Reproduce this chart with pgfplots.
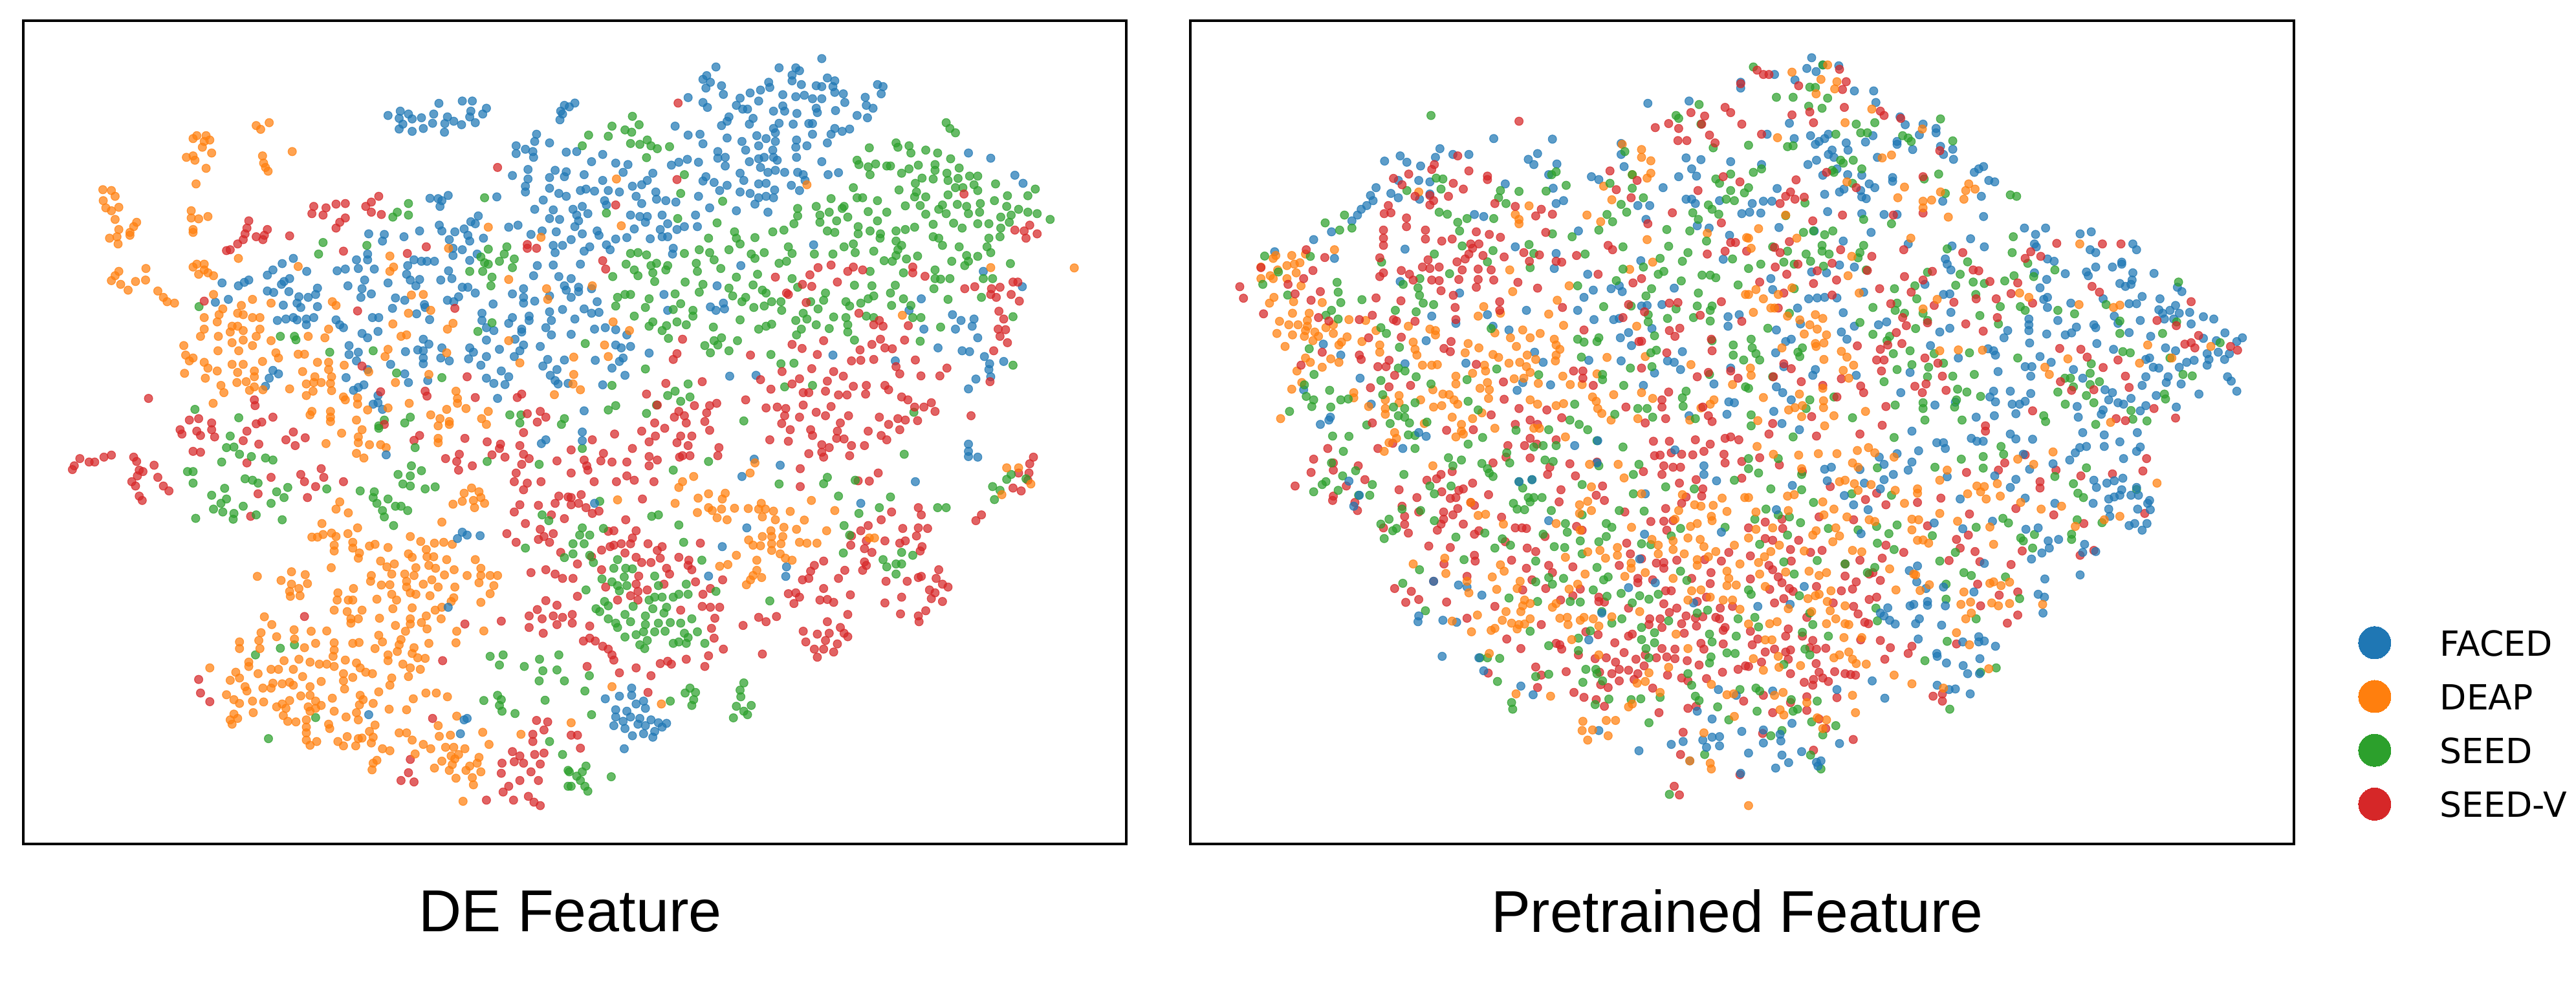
\documentclass[border=0pt]{standalone}
\usepackage{fontspec}
\setmainfont{Liberation Sans}
\newfontfamily\dejavu{DejaVu Sans}
\usepackage{pgfplots}
\pgfplotsset{compat=1.18}
\definecolor{fa}{HTML}{1F77B4}
\definecolor{de}{HTML}{FF7F0E}
\definecolor{se}{HTML}{2CA02C}
\definecolor{sv}{HTML}{D62728}
% Points are read from crops of the picture: #2,#3 crop origin; #4,#5 end of the crop's own part
\newcommand{\pts}[6]{\addplot[forget plot,only marks,mark=*,mark size=1.6pt,color=#1,
  mark options={opacity=0.72,line width=0.3pt},
  x filter/.expression={x>#4 ? nan : x*0.57398+#2},
  y filter/.expression={y>#5 ? nan : 1520-(y*0.44643+#3)}] coordinates {#6};}
\pgfplotsset{panel/.style={x=0.25pt,y=0.25pt,ymin=215,ymax=1488,ticks=none,
  axis line style={line width=1pt,black},anchor=south west}}
\begin{document}
\begin{tikzpicture}[x=1pt,y=1pt]
\path[use as bounding box] (0,0) rectangle (995.5,380);
\begin{axis}[panel,xmin=36,xmax=1741,at={(9pt,53.75pt)}]
\pts{fa}{0}{0}{1533}{1478}{(1045,400)(1078,385)(1075,410)(1100,395)(1110,412)(1085,430)(1075,447)(1110,455)(1140,445)(1135,408)(1168,395)(1165,427)(1182,358)(1197,458)(1198,428)(1205,405)(1222,420)(1245,350)(1272,350)(1268,385)(1265,405)(1243,432)(1280,425)(1300,395)(1310,375)
(1510,385)(1520,365)(1550,355)(1508,415)(1515,395)(1445,465)(1440,490)(1480,495)(1390,505)(1390,532)(1415,517)(1435,525)(1437,545)(1525,527)(1553,523)(1422,587)(1380,608)(1422,620)(1415,645)(1415,665)(1480,615)(1495,590)(1525,595)(1520,612)(1560,608)(1480,652)(1505,670)(1525,680)(1560,655)(1463,693)(1440,725)(1490,727)(1550,730)(1480,757)(1507,760)(1555,750)(1550,780)(1555,800)
(1158,687)(1180,688)(1207,677)(1190,695)(1185,715)(1338,682)
(993,810)(1035,812)(1030,835)(1088,820)(1130,800)(1183,780)(1190,800)(1225,803)(1250,793)(1268,768)(1288,748)(1280,775)(1370,787)(1395,780)(1430,812)(1460,800)(1498,803)(1535,830)(1490,850)(1495,875)(1515,850)
(1210,830)(1220,860)(1245,865)(1260,815)(1265,835)(1302,825)(1220,885)(1285,880)(1265,902)
(960,900)(990,880)(990,900)(965,930)(1008,932)(1115,900)(1135,905)(1150,905)(1170,905)(1098,920)(1095,950)(1105,970)(1130,968)(1120,990)(1208,938)(1187,970)(1217,965)(1045,980)(982,970)
(790,895)(760,913)(735,935)(720,953)(826,940)(908,938)(930,932)(780,965)(765,975)(758,985)(670,970)(658,978)(642,990)(598,980)
(615,1037)(580,1047)(720,1008)(737,1013)(778,1010)(855,998)(850,1020)(830,1030)(805,1028)(800,1050)(810,1065)(855,1062)(763,1057)
(937,990)(975,1000)(972,1030)(1000,1018)(1065,1032)(1090,1040)(1143,1055)(1145,1065)(1057,1068)(1122,1087)(1157,1107)(1205,1040)(1235,1028)(1245,995)(1260,995)(1280,1015)(1222,1045)(1328,1053)(1380,1018)(1410,1000)(1410,1030)(1410,1050)(1440,1043)(1437,955)(1447,920)(1490,918)(1505,958)(1520,990)(1525,1005)(1555,1000)(1565,915)(1535,960)(1480,1025)(1535,1035)(1560,1020)(1515,1072)(1480,1080)(1552,1105)
(747,1110)(770,1105)(790,1100)(800,1108)(825,1105)(845,1100)(825,1125)(905,1108)(915,1125)(925,1135)(975,1155)(990,1170)(1018,1148)(1003,1100)(1020,1100)
(1298,1085)(1298,1110)(1310,1135)(1330,1145)(1370,1120)(1380,1100)(1425,1095)(1425,1110)(1405,1140)(1405,1150)(1485,1110)(1470,1135)(1485,1160)(1537,1155)(1310,1178)(1387,1175)(1410,1195)(1400,1215)(1455,1200)(1385,1235)
(1140,1175)(1155,1192)(1140,1215)(1125,1212)(1092,1218)(1140,1240)(1140,1260)(1190,1205)(1187,1240)(1210,1250)(1265,1205)(1275,1220)(1262,1243)(1345,1210)(1310,1235)(1295,1265)(1350,1285)(1370,1305)
(940,1197)(965,1220)(940,1228)(960,1250)(1052,1262)(990,1280)(1090,1295)(1100,1325)(1152,1318)(1310,1310)(1330,1328)(1360,1332)(1520,1247)(1475,1245)(1462,1268)(1500,1280)(1482,1300)(1495,1318)(1503,1330)(1530,1328)
(932,1308)(980,1333)(965,1342)(952,1352)(735,1283)(750,1295)(725,1310)(715,1338)
(1340,1380)(1018,1370)(1018,1395)(1005,1400)(1030,1418)(1460,1530)(1470,1520)}
\pts{de}{0}{0}{1533}{1478}{(725,425)(690,435)(702,448)(555,470)(530,470)(520,480)(550,490)(565,485)(545,510)(570,530)(520,540)(502,545)(525,555)(555,583)(787,525)(707,540)(710,565)(715,580)(722,593)(528,637)
(277,657)(300,660)(310,680)(278,695)(285,720)(320,718)(300,730)(310,760)(368,770)(360,785)(320,795)(350,805)(295,825)(315,820)(318,845)(350,815)
(515,730)(515,755)(535,758)(560,750)(520,795)(520,805)(1315,787)(1457,822)(1208,860)
(642,895)(803,923)(1050,887)(1060,925)(1050,940)(1370,968)(1472,1000)(1475,1037)
(320,940)(310,955)(393,930)(300,972)(365,975)(392,970)(325,985)(345,1005)(425,1008)(440,1030)(450,1045)(470,1050)(530,915)(550,915)(520,925)(550,935)(560,945)(535,950)(575,955)
(575,1020)(680,1037)(730,1050)(895,1045)(905,1058)(650,1058)(600,1070)(590,1090)(640,1085)(655,1090)(550,1100)(585,1115)(680,1100)(700,1100)
(1108,1022)(1140,1020)(1160,1075)(1100,1085)(1058,1122)(1220,1120)(1205,1140)(1080,1165)(1095,1160)
(625,1130)(640,1130)(620,1150)(655,1145)(700,1140)(690,1165)(550,1140)(540,1165)(588,1165)(655,1178)(625,1187)(730,1180)(830,1165)(885,1140)(875,1170)(495,1197)(587,1215)(643,1215)(680,1197)
(743,1222)(750,1240)(803,1227)(820,1227)(500,1230)(520,1240)(510,1250)(550,1255)(560,1275)(625,1262)(655,1262)(640,1290)(707,1252)(855,1255)(885,1255)(885,1280)(927,1265)(1045,1210)(1037,1235)(1203,1222)(1370,1180)(1400,1257)
(497,1293)(553,1310)(585,1285)(638,1325)(685,1285)(685,1305)(663,1322)(815,1287)(848,1305)(845,1325)(825,1330)(865,1325)(893,1305)(890,1328)(993,1288)(1065,1325)(1155,1297)(1493,1367)(1540,1330)(1565,1348)
(595,1335)(603,1360)(685,1340)(672,1352)(708,1350)(780,1347)(843,1355)(825,1370)(893,1353)(925,1375)(930,1385)(963,1378)(963,1400)(1228,1355)(1232,1380)(1232,1397)
(574,1397)(840,1425)(835,1437)(890,1425)(890,1445)(890,1460)(960,1455)(990,1420)(1045,1413)(1102,1397)(1255,1415)(1315,1425)(1297,1450)(1310,1470)(1322,1485)
(1160,1437)(1203,1418)(1185,1450)(1210,1460)(1180,1475)(1210,1470)}
\pts{se}{0}{0}{1533}{1478}{(1568,505)(1305,685)(1100,705)(1070,735)(1058,752)(1100,745)(870,840)(858,880)(988,850)(536,1062)
(1315,863)(1365,855)(1358,880)(1295,890)(1305,910)(1345,905)(1385,897)(1380,927)(1315,915)(1300,940)(1265,940)(1325,960)(1322,990)
(755,1165)(793,1165)(797,1177)(888,1220)(1005,1215)(1068,1292)(1190,1308)(1325,1118)(1287,1148)
(525,1418)(643,1447)(1035,1455)(1020,1475)(1090,1465)(1105,1445)(1373,1437)(1403,1437)(1400,1465)(1520,1450)(1512,1470)}
\pts{sv}{0}{0}{1533}{1478}{(1340,580)(1020,680)(905,707)(930,705)(845,715)(878,720)(840,740)(870,745)(985,715)(1000,700)(1000,735)(1027,743)(930,755)(915,770)(905,790)
(670,765)(665,790)(660,810)(655,830)(640,845)(620,865)(610,868)(720,795)(712,815)(690,820)(708,830)(780,817)
(1148,855)(1097,878)(925,870)(1420,847)(1445,860)(1420,860)
(550,1043)(963,1077)(1225,1068)(975,1268)(1258,1305)(1025,1357)(1145,1355)(1150,1372)(1280,1377)(1393,1377)(1405,1365)(400,1380)(685,1385)(687,1405)
(735,1445)(690,1468)(705,1462)(1420,1433)(1455,1425)(1470,1445)(1447,1462)(1035,1470)(510,1455)(535,1450)(570,1465)}
\pts{fa}{880}{0}{9999}{1478}{(680,203)(395,232)(565,235)(610,235)(620,245)(600,260)(600,280)(625,293)(370,262)(360,275)(380,285)(368,305)(410,297)(415,327)(320,338)(360,355)(372,372)(15,357)(0,370)
(460,340)(487,322)(515,312)(537,285)(540,303)(510,350)(450,365)(480,378)(467,378)(575,328)(610,335)(633,330)(655,342)(680,342)(665,297)(695,270)(715,280)(710,300)(680,300)(715,320)(738,325)(742,355)(797,337)(800,365)(818,375)(830,293)(845,300)(840,325)(775,400)(803,408)
(575,367)(550,385)(580,385)(613,393)(665,375)(668,390)(717,383)(430,405)(425,420)(410,435)(495,410)(485,430)(565,427)(550,445)(603,430)(645,428)(655,428)(655,465)(715,445)(735,455)(755,447)(705,465)(695,495)
(285,437)(320,468)(352,465)(360,498)(425,478)(465,490)(475,520)(505,470)(530,480)(510,505)(555,460)(555,490)(612,485)(610,510)(640,505)(548,520)(550,545)(612,545)
(400,525)(400,548)(420,545)(420,575)(485,560)(510,550)(525,545)(515,580)(535,597)(555,590)(580,597)(560,555)(615,597)(630,605)(635,625)(680,560)(697,605)(725,598)
(275,572)(295,562)(318,552)(348,562)(90,535)(60,560)(125,565)(158,570)(145,597)(20,525)(40,605)
(225,600)(210,625)(195,640)(360,627)(368,612)(390,632)(425,642)(405,660)(460,600)(470,625)(510,637)(530,635)(553,658)(598,642)(620,660)
(90,625)(45,655)(30,660)(68,662)(105,660)(135,665)(170,645)(95,695)(100,710)(180,680)(195,705)(233,665)(235,690)(260,695)(287,700)(348,680)
(460,665)(487,670)(510,685)(530,680)(550,685)(500,707)(535,735)(450,730)(378,720)
(10,725)(35,715)(20,745)(50,740)(25,765)(15,785)(35,810)(75,800)(80,815)(5,830)(125,828)(155,823)(100,848)(110,865)(55,855)(40,870)
(165,745)(190,750)(210,750)(205,770)(250,745)(265,775)(175,793)(245,795)(218,827)(250,820)(265,820)(290,795)(310,785)(340,745)(345,785)(280,860)(278,880)
(30,915)(5,965)(25,995)(25,1010)(60,1000)(5,1030)(75,1045)(40,1070)(60,1085)(80,1082)(15,1105)(255,1020)(398,990)(462,920)(658,848)(1115,940)(1220,993)(948,1035)
(380,1063)(395,1075)(415,1050)(418,1070)(265,1075)(915,1075)(1032,1090)(1055,1110)(1090,1105)(1085,1130)(1040,1140)(1100,1170)(955,1140)
(68,1140)(97,1135)(125,1142)(155,1160)(5,1158)(125,1195)(140,1205)(165,1200)(215,1223)(70,1248)(145,1240)(135,1252)(115,1275)(150,1300)(90,1333)(432,1303)(503,1300)(710,1230)(878,1250)(993,1205)(1058,1215)(1078,1218)(1118,1235)(1132,1260)(1130,1280)(1170,1252)(1095,1313)(1135,1305)(1075,1347)(40,1423)
(1075,530)(1135,548)(1200,607)(1222,635)}
\pts{de}{880}{0}{9999}{1478}{(127,620)(640,640)(140,782)(1135,927)(1360,928)(62,990)(118,1115)(162,1145)(95,1195)(105,1235)(12,1237)(12,1297)(10,1330)(30,1350)(897,1092)}
\pts{se}{880}{0}{9999}{1478}{(170,403)(115,437)(150,450)(188,432)(168,458)(52,468)(105,472)(35,505)(165,497)(190,500)(210,485)(220,505)(237,515)(270,508)(208,546)(310,605)(300,670)(413,697)(100,738)(292,757)(398,772)
(1015,425)(1025,445)(1040,460)(808,512)(880,495)(885,510)(915,505)(920,530)(960,520)(992,530)(1027,550)(775,555)(780,570)(805,578)(825,568)(810,605)(855,575)(865,575)(895,600)(915,585)(940,572)(985,570)(985,590)(1050,582)(980,620)(1017,600)(1020,625)(1047,618)(1078,610)(1100,610)(950,617)(932,635)
(1090,640)(1100,660)(1148,637)(1040,650)(1060,650)(1255,655)(1235,678)(1180,678)(765,650)(775,685)(790,685)(705,688)(888,658)(935,665)(930,682)(960,682)(1020,675)(1005,710)(995,725)(1145,695)
(830,695)(855,735)(740,715)(735,722)(665,715)(615,722)(615,748)(605,775)(700,735)(675,745)(675,770)(720,765)(750,752)(805,733)(830,765)(905,713)(945,712)(960,742)(1015,740)(1045,708)(1070,715)(1075,740)(1107,705)(1105,735)(1178,715)(1162,752)(1210,725)(1235,735)(1260,740)(1295,760)(1190,745)(1185,770)
(980,777)(1035,773)(1058,790)(1100,775)(1130,775)(1162,790)(1160,820)(778,785)(778,810)(810,800)(695,800)(715,805)(838,810)(880,800)(905,795)(930,787)(980,820)(995,825)(1005,850)(548,803)(578,797)(445,803)(450,825)(460,845)(375,825)(500,823)(837,825)(880,835)
(1130,825)(1125,855)(1135,875)(1050,855)(1070,885)(1100,888)(1075,905)(1065,920)(1030,905)(1188,913)
(590,855)(600,878)(585,905)(565,912)(660,880)(710,880)(740,855)(765,845)(770,875)(820,870)(895,850)(885,865)(880,885)(848,903)(870,905)(908,897)(938,887)
(165,878)(185,875)(208,883)(350,865)(378,875)(390,900)(430,865)(490,880)(500,895)(525,875)(310,878)
(153,915)(175,935)(185,955)(220,920)(235,912)(265,920)(260,935)(225,945)(230,975)(342,912)(345,940)(408,930)(312,977)(117,958)
(450,960)(507,950)(600,965)(615,995)(495,987)(520,1005)(530,1015)(430,998)(440,1025)(360,985)(350,1012)(285,1018)
(900,945)(985,935)(985,965)(1000,967)(1025,965)(1115,965)(1140,965)(810,940)(768,988)(815,990)(878,988)(982,1000)(1020,1037)(1110,1030)(865,1015)(820,1025)(900,1035)(920,1058)(868,1058)
(130,1030)(150,1020)(165,1020)(125,1060)(215,1035)(205,1065)(300,1052)(280,1072)(333,1075)(333,1095)(175,1095)
(465,1045)(475,1030)(497,1065)(525,1060)(545,1045)(570,1045)(572,1075)(650,1045)(670,1070)(690,1015)(685,1040)(745,1045)(755,1060)(785,1050)(805,1035)
(630,1085)(610,1110)(640,1105)(665,1125)(625,1140)(612,1160)(700,1138)(712,1098)(745,1100)(750,1125)(750,1150)(800,1095)(820,1100)(925,1100)(947,1100)(1000,1133)(1195,1097)
(215,1130)(225,1115)(250,1145)(262,1128)(290,1115)(315,1125)(267,1172)(388,1133)(460,1108)(510,1140)(530,1130)(545,1123)(768,1178)(945,1182)
(365,1197)(390,1180)(400,1195)(410,1170)(430,1215)(380,1222)(453,1180)(543,1228)(43,1190)(205,1278)(570,1260)(605,1258)(1195,1265)
(115,1335)(580,1340)(655,1335)(320,1330)(285,1355)(265,1370)(325,1375)(300,1390)(105,1420)(125,1405)(208,1432)(235,1403)(437,1487)(470,1458)(928,1428)}
\pts{sv}{880}{0}{9999}{1478}{(293,357)(290,622)(1063,672)(125,710)(1200,797)(1240,780)(1260,810)(1225,800)(1230,825)(90,903)(98,932)
(705,918)(670,927)(648,952)(765,925)(750,940)(790,935)(925,925)(925,945)(958,957)(555,960)(628,985)(653,992)(722,977)(585,1015)(590,1020)(638,1048)(1065,1000)(1092,993)(1137,1000)(1160,995)(1195,977)(1208,977)(1150,1030)(1135,1020)(1190,1020)(1212,1043)(1157,1078)(1170,1105)(780,1085)(835,1110)(820,1125)(845,1130)
(913,1128)(1155,1140)(1175,1142)(1160,1165)(1180,1187)(1143,1215)(685,1180)(600,1193)(627,1207)(488,1230)(668,1228)(305,1175)(290,1225)(280,1245)(838,1175)(815,1193)(850,1205)(870,1208)(903,1178)(783,1212)
(760,1250)(785,1248)(820,1245)(932,1247)(880,1270)(890,1295)(1017,1275)(947,1302)(998,1302)(653,1277)(712,1287)(738,1303)(573,1287)(515,1315)(543,1348)(600,1330)(620,1312)(695,1320)(765,1338)(800,1335)(850,1335)(860,1350)(1133,1322)
(358,1322)(260,1328)(208,1365)(630,1360)(645,1360)(690,1355)(725,1368)(748,1368)(798,1365)(895,1375)(912,1385)(975,1395)(955,1410)(985,1425)(930,1410)
(475,1385)(397,1397)(378,1405)(337,1405)(295,1425)(310,1440)(283,1445)(237,1403)(530,1413)(560,1410)(583,1415)(630,1403)(705,1408)(665,1428)(690,1440)(620,1445)(580,1440)(752,1440)(835,1445)(860,1470)(885,1450)(905,1455)(938,1457)(1082,1440)
(230,1465)(258,1480)(370,1430)(365,1460)(315,1465)(572,1467)(730,1465)}
\pts{sv}{0}{660}{1533}{9999}{(300,98)(280,105)(215,110)(240,122)(255,122)(200,135)(195,148)(360,105)(368,120)(375,150)(385,155)(370,170)(355,190)(365,205)(415,133)(425,175)(440,205)(455,222)(375,240)(383,255)
(485,10)(530,15)(570,10)(490,25)(540,30)(578,35)(665,15)(655,48)(697,60)(790,18)(770,45)(795,65)(822,38)(520,85)(540,88)(665,125)(810,165)(865,145)(872,175)(820,190)(850,207)(925,190)(730,175)(695,232)(828,245)(675,310)
(1130,30)(1115,47)(1200,110)(1237,95)(1230,120)(1272,135)(1235,150)(1252,40)(1312,52)(1348,60)(1345,75)(1325,97)(1360,105)(1410,20)(1400,65)(1410,95)(1425,110)(1405,130)(1390,160)(1385,190)(1420,195)(1410,218)(1500,118)(1535,80)(1540,160)(1457,190)(1450,272)
(1505,240)(1530,243)(1560,235)(1495,265)(1400,270)(1385,295)(1485,305)(1520,318)(1415,335)(1455,355)(1365,370)(1465,380)(1450,390)(1490,370)(1390,400)(1480,400)(1510,435)(1430,505)(1470,495)(1495,510)(1515,525)(1555,590)
(1470,602)(1500,618)(1447,633)(1425,655)(1460,665)(1490,655)(1515,660)(1500,685)(1425,695)(1463,715)(1540,680)(1350,673)(1252,683)(820,657)(1192,810)(1570,745)(535,875)(540,922)(565,952)
(1165,1010)(1445,1017)(1475,1022)(1465,1050)(1545,1067)(1435,1065)(1435,1090)(1560,1110)(1380,1125)(1400,1140)(1440,1135)(1465,1130)(1385,1160)(1410,1165)(1352,1165)(1455,1168)(1430,1195)(1350,1200)(1105,1152)(1100,1198)(1080,1225)(1115,1230)
(1450,1225)(1400,1225)(1370,1245)(1355,1265)(1310,1293)(1383,1293)(1423,1280)(1438,1300)(1455,1312)}
\pts{se}{0}{660}{1533}{9999}{(620,32)(610,72)(630,70)(645,95)(677,103)(597,122)(715,108)(735,115)(1020,5)(1118,72)
(505,155)(520,155)(520,195)(660,180)(680,185)(695,195)(880,215)(775,210)(745,225)(765,245)(730,265)(605,213)(570,237)(610,250)(595,265)(575,285)(600,295)(655,275)(630,300)(628,320)(690,305)(527,317)(760,322)
(970,222)(1008,225)(1005,245)(1015,265)(1030,290)(1045,250)(1065,275)(1080,275)(1098,290)(1035,312)(1060,342)(1108,135)(1135,152)(1072,165)(1105,170)(1085,198)(1105,205)(1145,215)(1172,208)
(1312,120)(1452,130)(1460,305)(1478,325)(1415,420)(1540,405)(1520,453)(1545,440)(1565,370)(1570,350)
(755,767)(793,755)(688,790)(850,1007)(723,1080)
(1320,795)(1355,790)(1345,825)(1412,830)(1453,805)(1505,790)(1500,842)(1462,845)(1452,880)(1520,880)(1303,948)(1340,930)(1350,945)(1345,965)(1352,985)(1387,993)(1468,947)(1570,915)
(1480,1090)(1515,1135)(1530,1190)(1555,1195)(1555,1215)(1530,1245)}
\pts{de}{0}{660}{1533}{9999}{(920,22)(975,10)(878,58)(965,35)(965,55)(995,62)(1025,62)(1040,72)(960,92)(980,108)(1180,40)(1180,55)
(1270,212)(1290,225)(1250,230)(1245,258)(1275,255)(1295,245)(1278,280)(1220,268)(1305,265)(915,260)(905,285)(938,298)(1190,330)
(867,335)(963,350)(840,382)(855,382)(870,373)(893,368)(905,380)(937,370)(950,400)(900,410)(900,430)(1105,380)(1133,397)(1170,403)(1195,400)(1218,407)(995,413)(1010,407)(1045,418)(968,437)(965,455)(950,420)
(1100,440)(1110,452)(1148,425)(1150,450)(1168,450)(1203,460)(1280,460)(1025,465)(1042,485)(1062,475)(892,488)(1055,510)(1120,488)(1115,515)(1090,510)(1155,480)(1173,490)(1197,513)(1223,495)
(785,502)(822,512)(757,532)(828,543)(785,545)(780,570)(805,560)(782,587)(808,585)(693,518)(1000,515)(998,535)(1027,548)(1050,547)(952,560)(910,575)(908,600)(938,600)(950,600)(1095,535)(1095,555)(1105,575)(1120,580)(1140,545)(1163,530)(1180,555)(1225,555)(1158,585)
(1258,515)(1295,490)(1295,515)(1320,515)(1340,515)(1290,540)(1330,550)(1320,578)(1295,608)(1015,597)(1055,580)(1068,600)(1222,592)(1215,605)
(900,635)(935,640)(975,635)(945,665)(965,665)(1022,663)(945,680)(1058,630)(1110,627)(1148,655)(1105,665)(1105,683)(1065,688)(1135,678)(1172,635)(1188,665)(1150,700)(1190,625)
(712,658)(732,685)(792,703)(838,708)(880,707)(703,713)(745,727)(793,735)(697,740)(645,745)(645,768)(700,768)(820,765)(850,750)(900,748)(900,773)(897,795)(950,750)(967,747)(1020,722)(1030,745)(1010,768)(1080,737)(1075,755)(1070,778)(1092,708)(1155,750)(1230,708)(1228,748)(1303,707)
(765,810)(805,805)(835,815)(860,822)(880,822)(900,830)(930,808)(960,818)(970,835)(985,850)(1003,855)(1045,790)(1045,810)(1115,765)(1110,785)(1125,800)(1145,802)(1085,822)(1105,835)(1132,840)(1100,865)
(565,835)(670,815)(670,830)(695,855)(730,840)(750,840)(790,840)(635,850)(620,878)(645,870)(815,865)(865,882)(925,855)(925,880)(950,868)(1055,870)(1050,895)
(660,900)(665,915)(610,928)(630,945)(645,958)(680,950)(708,905)(730,905)(735,888)(760,890)(780,885)(790,895)(835,900)(710,953)(810,932)(835,930)(850,950)(895,940)(928,908)(970,930)(978,945)(1020,918)(1005,958)(968,963)(1147,922)(1175,922)(1205,935)(1113,942)
(780,948)(760,960)(745,970)(770,975)(830,970)(835,985)(865,965)(850,975)(900,985)(682,990)(630,995)(640,1010)(620,1015)(625,1030)(763,1000)(775,1020)(797,1022)(932,1005)(960,990)(965,1015)(1048,978)(1095,980)(1230,1002)
(825,1015)(825,1040)(825,1060)(825,1085)(835,1103)(853,1090)(885,1030)(888,1045)(1010,1033)(995,1055)(1005,1075)(935,1073)(965,1080)(975,1078)(1000,1095)(910,1090)(925,1105)(958,1105)(1075,1060)(1095,1060)(1110,1085)(1183,1072)(1213,1068)(1180,1035)(1300,1058)(1317,1100)(1403,1065)(1535,1025)
(1030,1115)(1050,1122)(1140,1100)(1160,1115)(1200,1110)(1222,1110)(1252,1115)(1118,1133)(1015,1155)(1005,1165)(1002,1188)(1190,1158)(1215,1140)(1235,1135)(1225,1150)(1218,1170)(1170,1182)(1210,1190)(1290,1145)(1285,1165)(1265,1175)(1255,1190)(1295,1195)(1228,1217)(1272,1215)(1275,1240)(1247,1297)}
\pts{fa}{0}{660}{1533}{9999}{(1040,97)(1458,58)(1470,45)(1232,387)(1245,365)(1258,375)(1293,377)(1207,625)(993,997)(1250,1015)(1258,1010)(1240,1063)}
\pts{sv}{880}{660}{9999}{9999}{(122,25)(195,15)(232,32)(215,52)(300,32)(290,55)(330,32)(320,65)(257,5)(378,12)(62,45)(170,75)(403,72)(400,100)(305,100)(325,100)(297,105)(92,92)(85,118)(115,122)(155,122)(215,103)(237,115)(215,135)(40,115)(47,135)(50,150)(5,80)(5,160)(67,190)(127,190)(155,170)(175,185)(228,190)
(540,45)(590,50)(595,10)(650,10)(655,30)(680,62)(700,72)(680,88)(685,105)(645,93)(722,15)(720,40)(740,42)(760,65)(795,65)(755,100)(805,15)(840,30)(855,45)(890,10)(622,145)(622,207)(832,160)(778,187)(808,188)
(32,235)(25,265)(5,245)(5,270)(45,280)(62,300)(80,292)(197,250)(152,322)(868,295)(840,322)(940,280)(948,305)(805,342)(785,360)(898,352)(940,350)(965,352)(935,378)
(180,360)(170,385)(105,362)(120,360)(165,405)(140,405)(120,410)(110,415)(87,427)(212,405)(150,437)(353,403)(250,415)(237,428)(245,455)(295,452)(322,462)(320,480)(330,495)(60,450)(22,475)(87,495)(180,452)(195,470)(220,470)(262,490)(270,510)(187,517)(10,525)
(180,545)(185,570)(165,585)(185,600)(210,565)(255,545)(340,537)(360,580)(380,560)(413,530)(98,555)(22,587)(130,600)(300,635)(358,622)(380,625)(405,625)(392,663)(468,688)(510,660)(530,675)(558,657)(383,698)(390,732)(415,770)(375,793)(365,830)(315,805)(265,812)(245,820)(275,822)(180,835)(135,852)(220,862)(48,830)(55,690)(8,650)(8,680)(212,920)
(55,732)(38,742)(70,742)(90,760)(105,770)(115,790)(120,808)
(660,480)(650,500)(685,465)(628,530)(645,525)(742,497)(725,525)(795,468)(800,480)(790,497)(853,535)(910,535)(940,522)(948,518)(995,495)(988,525)(1005,545)(1020,555)(970,565)(985,575)(975,595)(1005,605)(685,560)(590,578)(610,575)(620,590)(605,612)(675,600)(695,598)(712,608)(757,582)(850,610)(895,590)(960,637)(940,655)(942,675)(892,648)(750,650)
(695,675)(630,708)(668,718)(700,715)(730,695)(740,715)(750,727)(690,740)(637,745)(722,752)(685,770)(660,770)(712,780)(668,798)(520,787)
(800,395)(850,395)(890,403)(905,395)(760,378)(758,410)(795,422)(815,435)(950,415)(945,430)
(1250,105)(1240,128)(1210,160)(1238,160)(1235,185)(1195,212)(1217,222)(1110,305)(1095,325)
(22,1068)(5,1068)(30,1113)}
\pts{se}{880}{660}{9999}{9999}{(35,75)(375,120)(280,150)(35,350)(28,375)(55,375)(92,352)(10,405)(40,405)(10,440)(55,445)(65,470)(308,400)(357,462)(295,340)(222,310)(240,305)(82,258)
(130,460)(120,490)(152,490)(170,492)(88,527)(115,537)(148,520)(130,550)(155,550)(135,568)(230,517)(240,550)(45,565)(315,545)(320,580)(295,580)(280,590)(250,590)(230,590)(215,600)(395,570)(172,622)
(95,605)(105,620)(72,630)(82,640)(105,665)(125,680)(130,695)(150,650)(165,675)(225,630)(262,625)(255,645)(205,655)(205,685)(240,680)(230,710)(180,720)(200,710)(210,740)(190,755)(203,768)(150,728)(272,678)(300,680)(330,665)(310,715)(258,708)(320,730)(345,710)(365,750)(280,750)(295,745)(315,750)
(565,198)(695,175)(685,197)(770,185)(725,240)(865,243)(835,280)(780,300)(740,342)(755,375)(738,437)(845,460)(855,485)(880,475)(895,475)(880,510)(895,435)(925,445)(902,95)(992,280)(1015,280)(540,603)(1140,207)(1160,220)(1145,252)(1178,182)(1190,165)(1230,180)
(54,862)(42,915)(60,997)(113,1212)(45,1175)(35,1195)(20,1210)(0,1195)(30,1225)(5,1245)(42,1245)(50,1262)
(470,887)(460,912)(462,935)(450,968)(490,965)(470,985)(480,997)(442,1008)(312,922)(325,905)(340,920)(335,945)(330,965)(272,950)}
\pts{fa}{880}{660}{9999}{9999}{(35,18)(35,48)(498,112)(568,133)(465,172)(932,190)(785,265)(68,265)(478,350)(412,415)(585,485)(583,518)(375,517)(1075,60)(1075,85)(1075,103)(1100,105)
(168,905)(168,930)(135,933)(97,942)(200,950)(205,975)(180,960)(155,985)(125,980)(125,1005)(165,1005)(190,1010)(220,1015)(145,1020)(120,1035)(150,1045)(185,1030)(205,1035)(240,1025)(262,1027)(250,1040)(230,1055)(225,1075)(170,1070)(200,1063)(148,1115)}
\pts{de}{880}{660}{9999}{9999}{(500,125)(487,160)(335,172)(305,190)(295,210)(130,253)(285,265)(347,247)(375,232)(420,230)(412,250)(652,255)(375,280)(345,297)(385,290)(398,315)(410,285)(425,322)(445,282)(482,283)(517,265)(510,285)(528,285)(550,292)(595,293)(715,290)(520,312)(555,322)(633,323)
(543,360)(578,348)(612,355)(693,360)(520,380)(545,380)(575,380)(483,392)(495,410)(515,412)(545,405)(570,405)(545,428)(620,400)(640,403)(667,403)(808,385)(822,385)(450,445)(505,462)(427,477)(405,483)(568,440)(582,455)(600,462)
(505,497)(495,515)(518,522)(488,530)(477,547)(115,900)(248,960)(5,1025)(1178,142)(1210,142)(1165,235)(1243,198)}
\end{axis}
\begin{axis}[panel,xmin=1840,xmax=3545.5,at={(460pt,53.75pt)},clip=false,
  legend cell align=left,
  legend style={draw=none,fill=none,at={(axis cs:3645,552)},anchor=north west,inner sep=0pt,
    font=\dejavu\fontsize{13.4}{13.4}\selectfont,
    row sep=8.3pt,nodes={inner sep=0pt,text height=10.2pt,text depth=0pt}}]
\addlegendimage{only marks,mark=*,mark size=6.25pt,color=fa,line width=0pt}\addlegendentry{\hspace*{19pt}FACED}
\addlegendimage{only marks,mark=*,mark size=6.25pt,color=de,line width=0pt}\addlegendentry{\hspace*{19pt}DEAP}
\addlegendimage{only marks,mark=*,mark size=6.25pt,color=se,line width=0pt}\addlegendentry{\hspace*{19pt}SEED}
\addlegendimage{only marks,mark=*,mark size=6.25pt,color=sv,line width=0pt}\addlegendentry{\hspace*{19pt}SEED-V}
\pts{fa}{1820}{0}{1533}{1478}{(1517,285)(1517,305)(1378,350)(1267,358)(852,480)(1010,482)(1195,497)(1195,535)(707,515)(695,545)(742,535)(785,535)(600,540)(558,558)(618,562)(655,575)(945,552)(970,532)(960,570)(1022,568)(1203,577)(1370,547)(1410,553)(1385,585)(1490,560)(1000,605)(1115,612)(1135,622)(1350,612)(1398,610)
(650,625)(680,630)(595,625)(883,637)(1012,652)(1308,650)(535,650)(520,677)(527,695)(510,712)(495,725)(485,745)(470,765)(575,670)(595,685)(652,690)(680,672)(1020,705)(1040,695)(1240,712)(1272,712)(1370,690)(1385,690)(1395,705)(1460,695)(1550,705)(1520,740)(1565,725)
(800,743)(825,750)(1262,760)(415,803)(367,830)(1080,800)(1400,782)(1432,790)(1487,815)(613,863)(910,855)(262,872)(423,895)(1020,878)(1470,898)(1248,903)(1015,930)(1105,950)
(600,975)(1168,1000)(1190,990)(1198,1010)(1120,1005)(1095,1030)(1338,998)(760,1015)(1078,1075)(1265,1058)(1250,1060)(1305,1055)(940,1075)(835,1090)(685,1095)(1122,1107)(1175,1107)(1190,1103)(1483,1097)(1513,1090)(1483,1130)(1278,1138)
(750,1120)(850,1130)(893,1143)(1193,1170)(1215,1152)(1223,1197)(670,1180)(393,1192)(440,1230)(962,1220)(985,1255)(1195,1250)(1108,1248)(1360,1218)(1320,1250)(1338,1255)(1355,1280)(1285,1292)(613,1260)(777,1258)(492,1310)(1490,1275)
(930,1325)(915,1352)(1005,1333)(1255,1335)(1445,1330)(340,1350)(522,1400)(1485,1392)(1500,1395)(1480,1435)(1378,1440)(412,1445)(408,1455)(385,1470)}
\pts{de}{1820}{0}{1533}{1478}{(1198,500)(1250,518)(1250,545)(1275,557)(1275,600)(1265,617)(1225,605)(1148,645)(1170,692)(650,665)(947,713)(910,743)(920,760)(920,775)(1103,745)(1140,768)(1265,830)(1427,808)(1533,823)(1563,793)(1545,860)(1280,908)(1218,933)(423,865)
(308,885)(258,895)(265,885)(345,880)(225,925)(295,920)(315,915)(330,910)(270,935)(250,955)(225,965)(258,965)(295,965)(320,945)(333,990)(895,935)(1055,990)(1530,1020)(1558,1005)(903,1010)
(260,1030)(248,1050)(313,1045)(390,1048)(310,1085)(355,1085)(275,1113)(300,1125)(325,1125)(350,1110)(350,1130)(345,1145)(370,1150)(400,1135)(420,1125)(420,1155)(268,1155)(310,1160)(342,1165)(380,1165)(365,1180)(462,1107)(507,1110)(457,1167)(442,1185)(435,1195)(497,1183)(290,1200)(825,1062)(1023,1040)(1000,1088)(810,1095)(870,1085)
(622,1130)(680,1140)(695,1145)(695,1160)(535,1145)(930,1143)(950,1170)(977,1155)(897,1170)(855,1153)(1040,1127)(1237,1130)(1015,1175)(1020,1195)(1030,1210)(1020,1230)(1018,1250)(913,1200)(942,1230)(965,1245)(850,1228)(865,1238)(783,1190)(812,1205)(775,1222)(545,1195)(545,1220)(635,1185)(640,1210)(645,1230)
(345,1240)(358,1255)(322,1285)(390,1272)(413,1243)(435,1255)(660,1265)(685,1265)(700,1263)(827,1265)(830,1285)(893,1258)(922,1255)(940,1270)(950,1290)(795,1293)(1157,1238)(1260,1235)(1383,1263)(1540,1270)(1535,1295)
(335,1325)(308,1348)(475,1360)(475,1378)(750,1303)(750,1330)(835,1325)(840,1350)(815,1345)(838,1380)(688,1350)(907,1312)(933,1310)(972,1328)(1038,1303)(1058,1332)(1090,1332)(1130,1295)(1175,1367)(1250,1360)(1280,1380)(1495,1332)(1550,1350)
(597,1370)(560,1385)(597,1395)(655,1385)(715,1365)(732,1367)(745,1385)(755,1400)(690,1410)(712,1405)(515,1408)(560,1415)(560,1435)(950,1385)(970,1400)(1020,1405)(1040,1398)(1118,1375)(1128,1390)(1132,1415)(1143,1432)(1445,1385)(1435,1400)(1410,1413)(1240,1450)(1168,1455)
(278,1450)(820,1430)(795,1450)(740,1445)(765,1470)(665,1467)(1380,1455)}
\pts{se}{1820}{0}{1533}{1478}{(683,400)(1552,230)(1405,362)(1343,400)(1350,410)(1410,430)(1443,512)(1535,503)(1205,525)(1020,595)(1008,605)(1047,642)(993,662)(920,663)(1165,635)(1225,652)
(1225,605)(1255,685)(1195,708)(1210,735)(870,660)(865,685)(885,705)(1450,620)(1490,603)(1460,635)(1550,595)(1535,650)(1527,668)(1490,660)(1478,690)(1500,695)(1430,710)(1440,725)(1458,742)(1388,737)(1403,760)
(697,617)(715,620)(710,655)(705,735)(727,742)(780,757)(755,770)(760,800)(618,660)(398,772)(450,745)(437,797)(470,790)(852,757)
(1157,743)(1172,768)(1135,797)(1063,820)(1010,810)(1318,795)(1380,800)(1425,835)(1323,853)(1200,855)(767,852)(692,880)(850,868)(947,847)(960,878)(1098,880)(1375,875)(1360,905)(1300,895)(835,907)(550,908)(358,888)(235,887)(272,942)(950,927)(733,948)(1255,925)(1200,932)(1310,940)(1295,950)(1413,953)(1435,953)(1450,962)(1357,973)(1535,930)(1510,987)(1495,897)(1568,915)
(430,978)(230,985)(297,1022)(433,1012)(440,1048)(497,1038)(653,965)(608,985)(648,997)(652,1023)(662,1050)(690,1055)(1078,990)(1182,972)(1277,1000)(1262,1025)(1403,1015)(1400,1060)(1440,1060)(1435,1075)(1148,1062)
(415,1075)(400,1092)(433,1105)(587,1075)(643,1080)(1222,1060)(1343,1070)(1268,1090)(1268,1115)(1320,1103)(1390,1100)(1435,1112)(1285,1163)(1497,1195)(1440,1180)(1078,1175)(1095,1185)(1135,1170)(1130,1183)(548,1135)(563,1155)(845,1138)(355,1208)(598,1203)(1550,1203)(1565,1230)(1497,1230)(1525,1247)
(595,1275)(613,1285)(643,1305)(860,1278)(973,1298)(1088,1237)(1275,1222)(1290,1213)(1278,1270)(1220,1275)(1145,1297)(1145,1315)(1202,1335)(548,1318)(368,1297)(780,1315)(683,1330)(1433,1297)
(342,1333)(410,1352)(347,1373)(367,1385)(362,1408)(440,1385)(460,1382)(553,1367)(413,1410)(302,1425)(582,1410)(612,1415)(640,1395)(783,1390)(810,1420)(1070,1400)(1370,1355)(1360,1378)(1362,1407)(1240,1415)(1265,1415)(1530,1340)(1178,1435)(1280,1445)
(595,1440)(612,1445)(625,1465)(573,1467)(510,1472)(672,1462)(1057,1455)(1082,1470)(1395,1450)(1548,1465)}
\pts{sv}{1820}{0}{1533}{1478}{(920,420)(1517,290)(1560,245)(1475,372)(1490,390)(1383,390)(1420,402)(1412,430)(1287,442)(1323,428)(1350,445)(1348,487)(1372,487)(1520,430)(1433,468)(1448,495)(755,540)(692,570)(685,587)(785,592)(623,603)(1165,592)(1470,612)(1515,630)(1238,625)(582,618)(835,610)(835,622)(605,640)(743,635)(770,655)(1182,657)(1402,660)
(640,680)(680,677)(690,695)(680,710)(730,680)(1222,685)(855,705)(910,715)(568,712)(557,740)(575,737)(617,755)(617,785)(980,725)(965,748)(1010,742)(1333,737)(1465,772)(1267,775)
(555,797)(555,825)(555,850)(668,797)(668,828)(712,835)(740,828)(805,803)(840,812)(870,822)(992,805)(790,845)(812,845)(795,860)(1160,850)(1172,865)(1490,840)(1503,840)(1475,870)(1427,880)(1533,870)(347,865)(397,892)
(545,893)(785,880)(775,897)(880,890)(823,885)(753,907)(933,875)(975,883)(1075,885)(1020,905)(1035,908)(948,905)(660,925)(675,900)(705,925)(680,930)(767,935)(810,932)(845,935)(225,927)(365,937)(555,945)(545,958)
(603,937)(625,950)(635,970)(685,970)(705,972)(758,968)(810,968)(805,995)(852,970)(917,978)(970,998)(1133,950)(1227,980)(1250,965)(340,965)(298,985)(168,993)(178,1033)(710,1007)(385,1010)(317,1018)(535,1032)(360,1040)(743,1023)(602,1042)(868,1045)(1215,1055)(1037,1065)(1325,1050)(1348,1048)(1465,1045)
(748,1065)(868,1075)(232,1087)(380,1100)(408,1112)(525,1092)(490,1107)(582,1107)(590,1112)(640,1113)(750,1107)(1258,1080)(1200,1100)(1408,1092)(1520,1113)(1095,1143)(1325,1145)(1353,1137)(1340,1165)(1438,1175)(737,1183)
(515,1170)(603,1168)(490,1230)(495,1245)(718,1207)(735,1218)(1250,1182)(1243,1183)(1440,1215)(1318,1222)(390,1220)(570,1248)(562,1270)(540,1270)(333,1265)(805,1262)(1250,1275)(1067,1285)(1092,1285)(1092,1310)(1400,1305)(1430,1290)(1490,1285)(1510,1310)(585,1300)
(628,1335)(570,1340)(520,1343)(878,1323)(1120,1335)(1323,1358)(1305,1385)(1305,1410)(1208,1410)(880,1383)(1415,1410)(1315,1450)(1430,1440)(1440,1460)(995,1420)(920,1415)(845,1437)
(525,1465)(910,1470)(950,1455)(970,1470)(1035,1447)(1260,1465)}
\pts{fa}{2700}{0}{9999}{1478}{(175,200)(162,237)(187,248)(205,225)(248,228)(75,258)(130,277)(290,315)(342,315)(348,355)(413,405)(427,432)(475,430)(510,445)(510,460)(465,467)(405,490)(405,500)(447,518)(522,507)(555,517)(530,535)(557,552)(115,427)(172,470)(220,465)(210,480)(195,490)(185,500)(128,480)(55,465)(320,492)(340,470)(268,495)(273,520)
(230,520)(220,535)(235,545)(188,555)(165,570)(352,545)(40,570)(638,577)(625,585)(613,597)(243,585)(205,607)(272,605)(310,607)(393,615)(393,628)(330,637)(345,650)(652,625)(668,630)(82,653)(210,673)(250,665)(262,655)(307,660)(310,682)(322,688)(632,680)(528,697)
(15,705)(45,697)(68,697)(8,735)(38,738)(218,733)(310,740)(370,743)(405,743)(638,750)(87,788)(182,800)(335,805)(748,790)(805,790)(778,812)(898,810)(928,803)(603,827)(775,845)(780,855)(640,855)(553,852)(925,865)(940,875)(1040,845)(1050,865)(1010,908)
(535,897)(540,915)(550,935)(260,835)(435,845)(810,897)(828,905)(985,925)(1010,915)(940,925)(1097,947)(858,948)(915,942)(920,955)(775,945)(290,925)(175,942)(215,945)(250,918)(1040,945)(1038,970)(1005,982)(1020,992)(1035,985)(1160,995)(1172,1010)(65,965)(808,968)(790,997)(480,985)
(70,1003)(167,1035)(190,1032)(210,1030)(243,1032)(315,1012)(530,1020)(547,1018)(810,1030)(800,1037)(810,1065)(1065,1027)(1113,1035)(1030,1052)(1050,1052)(873,1050)(960,1035)
(137,1067)(260,1083)(550,1082)(1110,1073)(1120,1085)(1140,1075)(1155,1058)(1165,1085)(1125,1105)(1150,1105)(1193,1082)(1197,1122)(1230,1097)(1258,1105)(990,1095)(838,1110)(760,1105)(760,1125)(760,1145)(1060,1110)
(145,1122)(80,1143)(290,1130)(355,1125)(377,1115)(935,1125)(940,1135)(255,1150)(270,1175)(520,1150)(547,1137)(703,1145)(693,1170)(808,1157)(858,1160)(875,1153)(888,1133)(1030,1152)(1000,1120)(1088,1165)(1288,1153)(1230,1172)(1265,1180)(1335,1170)(1320,1183)
(120,1175)(105,1183)(78,1222)(943,1190)(762,1188)(495,1197)(650,1208)(665,1215)(670,1230)(570,1240)(790,1235)(1128,1205)(1155,1215)(988,1210)(1240,1225)(1270,1220)(1300,1225)(1287,1245)(1240,1265)(1245,1245)
(100,1270)(185,1280)(178,1300)(820,1255)(750,1270)(768,1270)(765,1303)(677,1287)(440,1290)(295,1300)(1085,1240)(1075,1245)(1095,1272)(1110,1275)(1165,1272)(1185,1255)(1205,1248)(880,1280)(1295,1305)(1305,1320)(1320,1355)
(80,1340)(97,1360)(120,1385)(415,1360)(665,1355)(655,1375)(670,1392)(710,1355)(765,1363)(715,1400)(735,1400)(750,1390)(905,1310)(965,1350)(985,1360)(975,1385)(1000,1395)(1015,1400)(1035,1380)(1075,1305)(1065,1335)(1135,1305)(1130,1325)(1170,1330)(1218,1365)(1103,1370)
(73,1425)(95,1467)(507,1403)(562,1393)(618,1445)(667,1440)(725,1433)(893,1445)(890,1408)(960,1420)(955,1435)(1060,1423)(1075,1405)(1157,1410)}
\pts{se}{2700}{0}{9999}{1478}{(18,232)(205,225)(170,302)(185,303)(80,337)(125,337)(218,340)(167,368)(203,375)(295,430)(345,425)(522,412)(240,465)(307,460)(325,460)(420,470)(435,478)(443,490)(555,488)(110,508)(125,505)(5,503)
(253,555)(260,565)(287,555)(310,585)(235,597)(517,603)(40,585)(18,597)(5,650)(230,590)(285,635)(535,670)(710,675)(727,680)(157,703)(105,747)(315,760)(390,775)(718,820)(153,805)(180,800)(210,813)(232,800)(203,850)(203,870)(315,850)(305,875)(300,893)(110,870)(160,880)(222,880)(172,905)(540,862)
(595,907)(715,875)(757,912)(70,855)(38,915)(5,930)(100,908)(128,915)(207,922)(322,935)(487,943)(575,950)(830,935)(720,955)(773,958)(478,620)(1163,977)(610,977)(695,973)(640,982)(563,988)(453,990)
(128,1000)(398,1000)(458,1035)(617,1020)(968,1055)(405,1050)(683,1062)(737,1062)(750,1075)(340,1065)(115,1085)(400,1075)(425,1085)(475,1085)(628,1093)(838,1075)(883,1087)(1005,1112)(305,1117)(455,1138)(487,1110)(678,1122)(57,1137)(340,1158)(1005,1155)(1120,1155)(1158,1115)
(12,1175)(15,1205)(25,1225)(35,1247)(150,1205)(138,1220)(143,1235)(385,1165)(378,1180)(440,1215)(395,1225)(600,1222)(1013,1218)(1033,1222)(1275,1187)(730,1240)(505,1225)(530,1258)(490,1272)(445,1263)(1140,1240)(928,1260)
(405,1280)(487,1305)(555,1303)(613,1297)(370,1322)(857,1310)(872,1310)(925,1293)(70,1305)(1175,1297)(1200,1302)(950,1322)(880,1340)(925,1332)(5,1345)(568,1348)(593,1358)(630,1373)(838,1358)(915,1370)(935,1395)(858,1400)(1125,1365)(1128,1382)
(170,1385)(160,1415)(235,1375)(565,1385)(560,1410)(475,1395)(400,1403)(475,1415)(480,1455)(12,1437)(12,1475)(285,1447)(580,1455)(800,1440)(805,1460)(1035,1422)(1040,1452)(1078,1458)(940,1470)}
\pts{sv}{2700}{0}{9999}{1478}{(28,243)(45,258)(60,258)(250,240)(268,283)(140,297)(258,310)(263,372)(360,385)(370,400)(415,410)(122,398)(170,388)(180,425)(40,465)(520,522)(215,597)(475,612)(133,623)(295,650)(118,665)(105,680)(90,705)(130,690)(155,683)(395,745)(258,745)(475,738)(178,765)
(115,837)(75,857)(90,875)(253,865)(337,888)(423,865)(582,875)(835,843)(958,845)(1008,845)(765,872)(792,888)(750,895)(230,912)(138,915)(77,925)(108,950)(190,938)(325,937)(610,935)(625,938)(500,940)(425,958)(180,982)(242,970)(35,977)(475,970)(655,975)(730,980)(930,992)(950,1012)
(100,1015)(230,1022)(358,1000)(443,1012)(618,1035)(672,1035)(712,1017)(558,1047)(388,1052)(505,1058)(770,1050)(85,1067)(1197,1045)(420,1100)(430,1128)(487,1118)(675,1100)(590,1122)(1105,1110)(1157,1128)(637,1147)(403,1152)(1217,1162)(298,1198)(360,1210)(380,1195)(418,1190)(843,1207)(900,1210)(917,1237)(1197,1187)(1180,1192)(1207,1205)(1303,1200)(1322,1213)
(100,1260)(120,1277)(350,1247)(370,1247)(363,1285)(480,1240)(515,1258)(1000,1247)(960,1273)(527,1303)(72,1305)(1020,1303)(1030,1342)(845,1322)(147,1322)(205,1335)(255,1312)(307,1337)(315,1360)(537,1352)(483,1330)(453,1338)(473,1360)(875,1352)(935,1350)(243,1375)(375,1408)(770,1423)(1097,1415)
(175,1443)(70,1467)(365,1473)(643,1475)(995,1450)(1020,1457)(1155,1448)}
\pts{de}{2700}{0}{9999}{1478}{(218,225)(122,250)(200,275)(243,283)(237,308)(187,325)(337,378)(265,425)(473,447)(83,477)(390,537)(365,547)(425,648)(598,637)(590,660)(585,690)(522,665)(475,697)(498,693)(475,720)(615,655)(407,685)(543,752)(270,630)(105,745)(32,792)(442,825)(135,825)(5,825)(12,860)(897,845)(283,888)(273,955)
(25,1003)(122,997)(85,1020)(303,1015)(735,1015)(760,1030)(513,1037)(45,1035)(5,1020)(65,1067)(75,1067)(18,1082)(475,1070)(988,1065)(1005,1057)(895,1055)(185,1090)(205,1103)(110,1095)(143,1108)(170,1125)(190,1140)(215,1160)(155,1157)(1080,1195)(185,1190)(208,1188)(187,1200)(95,1205)
(520,1215)(570,1212)(635,1213)(865,1243)(1250,1200)(255,1217)(270,1237)(208,1245)(288,1265)(260,1283)(803,1272)(815,1297)(1145,1240)(1058,1258)(10,1275)(12,1300)(275,1310)(205,1345)(142,1365)(45,1377)(207,1388)(207,1412)(150,1405)(130,1412)(113,1420)(148,1443)(235,1440)(320,1425)(210,1475)(30,1457)(980,1463)}
\pts{sv}{1820}{660}{1533}{9999}{(405,75)(367,112)(360,158)(420,125)(420,150)(487,135)(505,183)(455,205)(317,205)(420,240)(418,255)(478,262)(485,290)(540,75)(580,57)(725,12)(797,10)(890,65)(935,65)(968,60)(1020,45)(950,40)(950,108)(1057,128)(1003,140)(997,165)(1072,170)(850,125)(885,105)
(740,155)(710,165)(698,180)(672,185)(795,195)(770,215)(758,220)(712,225)(597,218)(645,245)(750,245)(735,248)(838,235)(1033,218)(1145,205)(1128,237)(1150,255)(1028,260)(755,283)(800,272)(790,262)(605,275)(650,295)(717,295)(742,305)(612,310)(612,338)(717,320)(710,337)(873,313)
(555,350)(622,368)(770,337)(700,358)(812,360)(800,372)(910,350)(928,350)(940,352)(1205,295)(1075,345)(1275,328)(1090,358)(990,380)(883,398)(677,413)(735,418)(942,420)(965,432)(800,445)(802,465)(900,462)(718,475)(940,490)(1000,480)(1065,485)(1010,505)(780,518)(690,535)
(1282,50)(1325,50)(1395,45)(1435,60)(1475,40)(1490,35)(1512,45)(1285,100)(1300,98)(1330,90)(1358,95)(1388,97)(1418,85)(1472,95)(1475,125)(1520,120)(1310,135)(1335,140)(1355,140)(1305,165)(1255,155)(1130,122)(1352,195)(1397,183)(1415,215)(1412,240)(1520,178)(1370,243)(1358,265)(1315,283)(1310,327)(1335,325)(1318,358)(1210,403)
(1535,350)(1420,460)(1485,435)(1540,445)(1465,465)(1220,440)(1250,457)(1290,472)(1310,470)(1310,490)(1345,462)(1190,480)(1437,505)(1385,525)(1240,525)(1240,540)(1280,530)(1435,543)(1543,527)(1315,568)(1330,568)(930,565)(992,560)(1085,562)(955,530)(630,570)(585,560)(650,598)(615,608)(725,607)(855,622)
(1065,585)(1032,600)(1135,605)(1150,607)(1135,590)(1215,628)(1310,613)(1345,628)(1325,643)(1400,605)(1425,590)(1462,628)(1495,622)(780,663)(980,685)(887,735)(925,768)(1100,710)(1133,720)(1030,755)(1020,750)(1035,770)(1272,665)(1300,665)(1270,685)(1305,695)(1370,655)(1358,682)(1395,662)(1415,658)(1398,690)(1450,660)(1460,665)(1470,705)(1475,695)(1365,715)(1215,725)(1225,718)(1178,748)(1203,782)(1080,790)(1305,768)(1340,770)(1410,750)(1418,770)(1470,752)(1548,755)(1545,705)(1558,735)
(1125,803)(1155,800)(1180,815)(1235,805)(1260,790)(1290,800)(1318,797)(1340,803)(1373,810)(1405,825)(1510,840)(1530,828)(1468,850)(965,832)(1047,848)(980,860)(1137,850)(1170,855)(1190,880)(1190,840)(1215,843)(1240,855)(1230,875)(1257,828)(1358,870)(1375,880)(1425,872)(1320,860)
(837,853)(1140,893)(1160,903)(1280,905)(970,903)(1068,920)(1095,937)(1128,945)(1150,968)(1525,950)(1297,990)(1375,975)(1397,968)(1362,1058)(1355,1135)(1338,1245)(1352,1275)(1515,1205)}
\pts{se}{1820}{660}{1533}{9999}{(418,32)(462,33)(447,85)(640,75)(622,28)(640,30)(822,37)(912,12)(1000,10)(1105,10)(1130,48)(1200,70)(1020,65)(985,65)(960,70)(783,60)(730,107)(765,115)(742,135)(887,90)(895,125)(820,127)(835,145)(850,172)(840,160)(990,115)(1012,120)(1135,135)(1243,130)
(415,125)(480,152)(445,170)(610,165)(400,190)(390,200)(433,220)(525,200)(367,225)(488,237)(518,237)(1228,165)(920,190)(955,183)(930,212)(1090,200)(1500,185)(1392,215)(1315,208)(945,245)(960,245)(982,245)(950,260)(905,265)(915,285)(935,287)(1228,232)(680,205)(737,205)(692,232)(1007,290)(1190,290)(1257,292)(655,290)(605,285)
(570,320)(548,337)(590,352)(580,360)(557,387)(692,325)(750,382)(828,368)(1045,335)(1050,365)(1155,335)(1170,348)(1155,380)(1090,305)(985,372)(855,420)(875,388)(897,410)(772,460)(1135,398)(1085,395)(1015,415)(1043,418)(1090,440)(1250,405)(1275,408)(1355,352)(1330,378)(1475,348)
(965,465)(652,495)(1130,487)(1040,525)(1000,522)(1010,545)(1160,520)(1148,530)(1120,565)(965,537)(607,542)(1195,577)(1157,587)(893,593)(970,605)(1085,607)(1058,605)(1245,585)(1270,597)(1295,580)(1372,532)(1355,500)(1225,610)(1143,640)(668,637)(1540,570)(1510,665)
(1170,680)(1197,665)(1112,707)(950,708)(1080,732)(1250,695)(1285,713)(1250,737)(1285,748)(1262,768)(1000,758)(1080,775)(1323,672)(1400,645)(1428,635)(1433,718)(1505,725)(1555,660)(1563,695)(1440,745)(1480,783)(1502,785)(1437,797)(1433,818)(1270,800)(835,800)(815,800)(868,802)
(1100,840)(1127,840)(1130,855)(1000,857)(965,865)(1145,880)(1092,885)(862,882)(1375,855)(1385,895)(1560,905)(1515,910)(1395,933)(1405,948)(1455,970)(1300,937)(1248,942)(1222,945)(1162,943)(1125,962)(1560,985)(900,955)(903,978)(1270,1025)(1485,1015)(1420,1135)(1325,1273)}
\pts{fa}{1820}{660}{1533}{9999}{(462,188)(490,237)(475,275)(607,75)(650,20)(670,33)(1070,65)(1132,48)(1130,125)(920,190)(955,183)(1418,165)(1452,187)(1260,232)(1000,325)(1465,365)(1258,372)(1245,458)(690,535)(757,548)(780,555)(820,583)(1215,557)(1287,540)(1390,610)(650,655)(648,675)(715,670)(752,677)(1108,738)(1143,645)(713,795)(812,800)(825,845)(925,898)(958,928)(1457,910)(1505,930)(1400,985)(1440,1012)(1135,1052)(1520,1055)(1362,1090)(1330,1100)(1415,1085)(1440,1075)(1460,1073)(1425,1110)(1460,1105)(1243,1122)(1380,1157)(1517,1200)(1340,80)(1418,135)}
\pts{de}{1820}{660}{1533}{9999}{(585,20)(590,40)(570,55)(557,85)(750,35)(765,15)(770,25)(855,5)(960,5)(975,5)(1045,35)(688,135)(1110,130)(1187,130)(1203,177)(1115,208)(1083,270)(1105,258)(1115,290)(1083,300)(1250,232)(790,262)(810,307)(830,303)(878,337)(1020,335)(1085,358)(1223,348)
(1360,235)(1467,247)(1528,245)(1393,270)(1410,275)(1443,272)(1350,290)(1340,320)(1438,310)(1440,325)(1480,293)(1400,335)(1382,345)(1375,385)(1278,390)(1295,410)(1335,395)(1408,390)(1418,415)(1500,410)(1335,425)(1185,418)(1185,445)(1138,428)(1045,452)(1105,433)(1153,455)(1295,440)(1365,440)(1450,432)(1400,460)(1222,472)(1222,490)(1260,505)(1098,510)(1205,518)(1335,525)(1515,475)
(1400,480)(1430,450)(1480,500)(1485,525)(1480,550)(1505,548)(1385,568)(1410,565)(1375,600)(1435,590)(1470,600)(1495,600)(1515,632)(870,478)(880,500)(723,508)(848,520)(720,455)(635,475)(860,563)(923,535)(915,560)(780,535)(785,575)(1078,545)(1055,562)
(935,600)(930,620)(925,640)(885,640)(950,612)(1020,612)(1010,625)(1245,640)(1030,663)(1050,660)(1052,685)(1085,670)(1095,660)(1120,665)(1135,690)(1170,658)(808,652)(875,670)(900,680)(920,685)(950,665)(935,683)(915,700)(845,705)(855,698)(792,710)(740,673)(1062,737)(1343,718)(1375,768)
(1135,790)(1270,852)(1323,833)(840,785)(1238,888)(1260,882)(1300,920)(912,925)(1005,933)(1438,892)(1480,928)(1498,925)(1215,970)(1225,960)(1180,1017)(1155,1017)(1092,1020)(1090,1052)(1118,1050)(1160,1070)(1105,1085)(1418,1060)(1500,1003)(1435,1165)(1438,1185)(1380,1157)(1537,1310)}
\pts{sv}{2700}{660}{9999}{9999}{(60,25)(188,32)(305,25)(643,15)(35,107)(88,132)(150,155)(225,207)(592,158)(695,125)(678,150)(750,97)(833,150)(900,170)(985,163)(1067,153)(1077,110)(790,190)(790,212)(523,247)(460,262)(375,270)(320,252)(350,230)(725,283)(827,305)(1072,300)(908,335)(600,302)(195,312)(288,322)(50,330)(95,320)(97,352)(5,350)(487,343)
(565,390)(597,375)(70,393)(50,387)(140,393)(575,420)(375,410)(423,435)(615,432)(742,430)(203,428)(172,435)(118,425)(545,463)(628,467)(365,455)(305,462)(265,475)(935,428)(898,445)(10,447)(120,465)(712,477)
(60,480)(70,495)(85,520)(95,540)(115,560)(125,570)(265,517)(330,510)(340,505)(295,537)(360,532)(285,562)(255,568)(188,553)(10,527)(62,563)(100,595)(75,610)(330,598)(350,590)(233,610)(288,622)(622,545)(680,583)(730,572)(630,620)(730,652)(702,680)(300,648)(318,677)(328,682)
(162,660)(10,708)(112,700)(105,725)(150,725)(178,740)(30,735)(15,755)(170,765)(188,770)(213,767)(360,740)(307,738)(387,765)(445,760)(435,785)(372,805)(50,780)(75,770)(105,780)(118,773)(112,805)(565,752)(40,815)(5,830)(187,820)(195,850)(237,848)(265,855)(280,858)(293,860)(118,855)(180,875)(205,870)(220,882)(155,885)(178,895)(45,930)(243,938)(162,935)(118,955)(502,933)(527,925)(527,950)
(70,990)(162,982)(195,1012)(213,1045)(43,1062)(287,1083)(180,1120)}
\pts{se}{2700}{660}{9999}{9999}{(125,35)(397,37)(5,110)(85,110)(5,145)(32,160)(148,165)(352,142)(507,140)(578,112)(637,103)(637,143)(685,68)(692,95)(915,142)(830,172)(880,197)(892,230)(907,245)(65,215)(148,218)(283,232)(390,237)(180,262)(52,285)(85,305)(115,312)(22,320)(145,332)(220,352)(300,357)(350,345)(383,370)(405,340)(500,377)(618,348)(690,317)(705,333)(890,322)(957,332)(1050,217)
(110,375)(35,407)(352,403)(397,425)(738,385)(775,373)(875,372)(875,390)(745,395)(770,420)(562,435)(520,465)(190,463)(100,468)(128,510)(345,487)(325,505)(265,475)(585,505)(605,515)(697,520)(5,565)(12,580)(537,545)(142,585)(735,595)(537,597)
(22,660)(32,693)(170,645)(178,685)(352,672)(348,628)(150,712)(220,725)(618,665)(540,743)(157,770)(170,790)(100,823)(480,810)(630,850)(672,835)(25,905)(35,915)(120,945)(190,950)(28,985)(125,985)(137,978)(547,978)(240,1035)(175,1022)(95,1052)(65,1070)(205,1067)(172,1137)(200,1185)}
\pts{fa}{2700}{660}{9999}{9999}{(142,10)(445,15)(530,55)(512,55)(535,75)(463,83)(357,105)(405,93)(370,130)(445,122)(435,150)(228,140)(210,147)(305,148)(395,165)(370,183)(540,173)(217,187)(123,203)(317,195)(360,215)(575,250)(263,238)(288,270)(327,287)(80,287)(605,40)(620,50)(637,50)(710,25)(725,42)(770,43)(745,95)(825,128)(762,147)(668,170)(725,182)(710,210)(750,247)(830,265)(870,115)(885,90)(897,72)(915,68)(963,68)(905,20)(963,28)(1052,20)(1005,52)(1050,85)(1060,70)(1015,110)(1050,210)
(935,185)(942,210)(970,195)(990,187)(1013,178)(1010,218)(975,250)(990,243)(1005,237)(1035,237)(1055,237)(1085,255)(1080,265)(933,265)(975,285)(978,310)(1053,285)(1087,287)(1030,342)(1045,335)(1078,335)(1065,358)
(505,333)(582,353)(662,327)(752,355)(785,350)(840,390)(812,395)(815,420)(795,437)(767,458)(910,407)(905,435)(940,432)(308,370)(640,473)(460,482)(438,498)(898,513)(803,527)(458,537)(530,555)(483,560)(785,580)(802,590)(612,572)(798,645)(525,687)(487,605)(487,618)(535,620)(440,620)(450,615)(380,627)(360,645)(370,655)(385,670)(400,683)(465,665)(455,682)(155,553)(117,615)(30,622)
(462,735)(625,727)(640,742)(625,745)(670,760)(582,745)(512,785)(513,795)(538,818)(628,803)(583,827)(595,855)(338,880)(627,855)(513,895)(562,908)(545,910)(602,925)(372,940)(243,910)(70,915)(45,1050)(45,1095)(90,1065)(92,1088)(122,1027)(250,1097)(5,1130)(148,1125)(95,1137)(113,1163)(78,1182)(188,1162)(200,1157)(192,1175)}
\pts{de}{2700}{660}{9999}{9999}{(28,68)(72,95)(140,98)(193,93)(243,93)(298,82)(328,72)(345,90)(397,105)(285,125)(300,140)(5,245)(110,240)(128,235)(205,260)(235,285)(25,295)(112,290)(265,185)(250,190)(290,197)(300,220)(335,200)(400,220)(460,215)(460,230)(425,265)(520,300)(445,320)(463,322)(270,312)(330,322)(345,328)(208,305)
(148,145)(520,185)(540,150)(620,205)(640,207)(630,225)(645,250)(675,197)(595,232)(683,240)(738,262)(793,285)(848,275)(730,112)(773,130)(825,87)(1105,195)(963,322)(885,345)(1005,310)(568,327)(655,347)(445,357)(187,360)(178,375)(240,350)(250,378)(232,398)(70,350)(25,355)(5,385)
(460,393)(475,392)(490,403)(665,407)(88,410)(65,432)(48,450)(32,470)(155,430)(285,428)(310,433)(385,492)(168,500)(195,515)(215,505)(35,510)(105,503)(50,553)(402,565)(227,568)(165,595)(185,585)(195,580)(455,513)(450,510)(492,547)(467,567)(655,542)(685,550)(708,538)(665,537)
(585,572)(577,615)(603,607)(660,610)(678,620)(708,612)(797,615)(217,605)(265,620)(225,637)(240,665)(215,682)(275,685)(265,682)(112,630)(605,645)(590,665)(82,675)(62,682)(5,683)(175,640)
(565,713)(262,730)(50,738)(68,738)(310,730)(600,755)(85,795)(235,800)(250,790)(275,780)(285,805)(295,820)(322,822)(18,803)(145,827)(87,833)(45,843)(397,860)(445,890)(530,905)(98,920)(75,930)(285,930)(162,955)(90,980)(100,998)(293,990)(652,838)(5,1312)(190,1008)(215,1015)(205,1045)}
\end{axis}
\node[font=\fontsize{22.9}{24}\selectfont] at (220.4,27.7) {DE Feature};
\node[font=\fontsize{22.8}{24}\selectfont] at (671.3,27.7) {Pretrained Feature};
\end{tikzpicture}
\end{document}
